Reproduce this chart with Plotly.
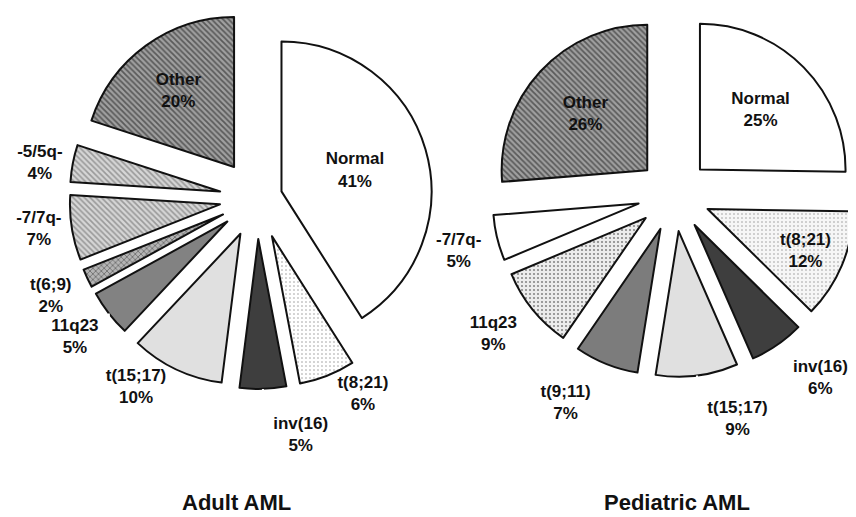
import plotly.graph_objects as go

adult_labels = ["Normal", "t(8;21)", "inv(16)", "t(15;17)", "11q23", "t(6;9)", "-7/7q-", "-5/5q-", "Other"]
adult_values = [41, 6, 5, 10, 5, 2, 7, 4, 20]

ped_labels = ["Normal", "t(8;21)", "inv(16)", "t(15;17)", "t(9;11)", "11q23", "-7/7q-", "Other"]
ped_values = [25, 12, 6, 9, 7, 9, 5, 26]

titles = ["Adult AML", "Pediatric AML"]

# page has an 8px body margin; figure is sized to fill the rest of the 856x517 window
OFF = 8
W, H = 856 - OFF, 517 - OFF
FONT = "Liberation Sans, Arial, sans-serif"
INK = "#111111"

a_pull = [0.17, 0.27, 0.27, 0.26, 0.25, 0.25, 0.25, 0.25, 0.26]
a_pos = ["inside", "outside", "outside", "outside", "outside", "outside", "outside", "outside", "inside"]
a_gap = [0, 0, 0, 0, 0, 1, 0, 0, 0]          # blank lines that push an outside label away
a_bg = ["#ffffff", "#ffffff", "#3e3e3e", "#e0e0e0", "#828282", "#b4b4b4", "#d6d6d6", "#d6d6d6", "#a0a0a0"]
a_fg = ["#ffffff", "#999999", "#3e3e3e", "#e0e0e0", "#828282", "#666666", "#999999", "#999999", "#5a5a5a"]
a_shape = ["", ".", "", "", "", "x", "\\", "\\", "\\"]
a_sol = [0.1, 0.12, 0.1, 0.1, 0.1, 0.35, 0.4, 0.4, 0.45]

p_pull = [0.25, 0.25, 0.25, 0.25, 0.25, 0.25, 0.25, 0.25]
p_pos = ["inside", "inside", "outside", "outside", "outside", "outside", "outside", "inside"]
p_gap = [0, 0, 1, 0, 1, 1, 1, 0]
p_bg = ["#ffffff", "#f6f6f6", "#3e3e3e", "#e0e0e0", "#7c7c7c", "#ececec", "#ffffff", "#a0a0a0"]
p_fg = ["#ffffff", "#999999", "#3e3e3e", "#e0e0e0", "#7c7c7c", "#888888", "#ffffff", "#5a5a5a"]
p_shape = ["", ".", "", "", "", ".", "", "\\"]
p_sol = [0.1, 0.12, 0.1, 0.1, 0.1, 0.22, 0.1, 0.45]


def dom(cx, cy, half):
    cx -= OFF
    cy -= OFF
    return dict(x=[max(0, (cx - half) / W), min(1, (cx + half) / W)],
                y=[max(0, 1 - (cy + half) / H), min(1, 1 - (cy - half) / H)])


BODY = ("<span style='color:%s'>%%{label}</span><br>"
        "<span style='color:%s'>%%{value}%%</span>") % (INK, INK)


def templates(gaps):
    return ["&nbsp;<br>" * g + BODY for g in gaps]


def pie(labels, values, pull, pos, gaps, bg, fg, shape, sol, domain):
    return go.Pie(
        labels=labels, values=values, sort=False, direction="clockwise", rotation=0,
        pull=pull, textposition=pos, texttemplate=templates(gaps),
        insidetextorientation="horizontal", automargin=False,
        marker=dict(colors=bg, line=dict(color=INK, width=2),
                    pattern=dict(shape=shape, fgcolor=fg, bgcolor=bg, size=4, solidity=sol)),
        textfont=dict(family=FONT, size=17, color=INK, weight="bold"),
        insidetextfont=dict(family=FONT, size=17, color=INK, weight="bold"),
        # outside font colour also strokes plotly's label connector lines: keep them invisible
        outsidetextfont=dict(family=FONT, size=17, color="#ffffff", weight="bold"),
        domain=domain, showlegend=False, hoverinfo="label+value",
    )


fig = go.Figure()
fig.add_trace(pie(adult_labels, adult_values, a_pull, a_pos, a_gap, a_bg, a_fg, a_shape, a_sol,
                  dom(257, 196, 193)))
fig.add_trace(pie(ped_labels, ped_values, p_pull, p_pos, p_gap, p_bg, p_fg, p_shape, p_sol,
                  dom(674, 195, 182)))

for t, x in zip(titles, [236, 677]):
    fig.add_annotation(text=t, x=(x - OFF) / W, y=1 - (502 - OFF) / H, xref="paper", yref="paper",
                       xanchor="center", yanchor="middle", showarrow=False,
                       font=dict(family=FONT, size=22, color=INK, weight="bold"))

fig.update_layout(width=W, height=H, margin=dict(l=0, r=0, t=0, b=0, autoexpand=False),
                  paper_bgcolor="white", plot_bgcolor="white")
fig.write_html("out.html")
